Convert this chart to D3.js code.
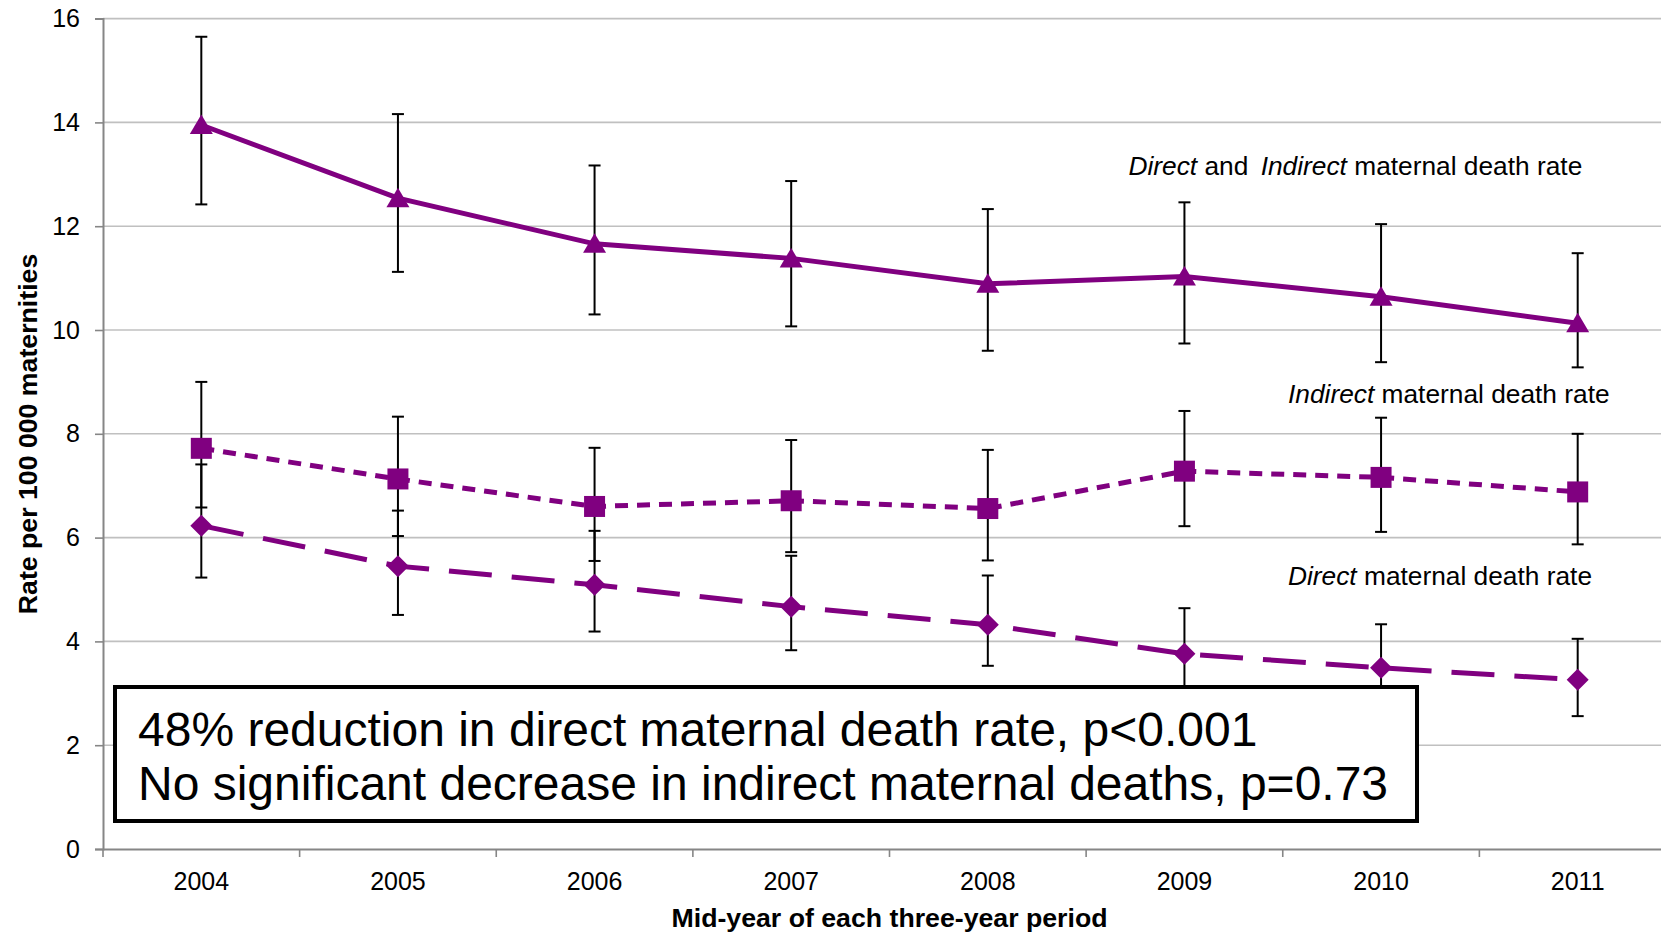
<!DOCTYPE html>
<html>
<head>
<meta charset="utf-8">
<script src="https://cdn.jsdelivr.net/npm/d3@7"></script>
<style>
  html, body { margin: 0; padding: 0; background: #fff; }
  svg { display: block; font-family: 'Liberation Sans', Arial, sans-serif; }
</style>
</head>
<body>
<script>

// data (rate per 100 000 maternities)
var years = ['2004', '2005', '2006', '2007', '2008', '2009', '2010', '2011'];

var totalRate  = [13.95, 12.54, 11.66, 11.38, 10.89, 11.03, 10.64, 10.13];
var totalLow   = [12.42, 11.12, 10.30, 10.07, 9.60, 9.74, 9.38, 9.28];
var totalHigh  = [15.65, 14.16, 13.17, 12.87, 12.33, 12.46, 12.04, 11.48];

var indirectRate = [7.72, 7.13, 6.60, 6.71, 6.56, 7.28, 7.16, 6.88];
var indirectLow  = [6.58, 6.03, 5.55, 5.72, 5.56, 6.22, 6.11, 5.87];
var indirectHigh = [9.00, 8.33, 7.73, 7.88, 7.69, 8.44, 8.31, 8.00];

var directRate = [6.23, 5.45, 5.09, 4.67, 4.32, 3.76, 3.49, 3.26];
var directLow  = [5.23, 4.51, 4.19, 3.83, 3.53, 2.90, 2.70, 2.56];
var directHigh = [7.41, 6.52, 6.13, 5.65, 5.27, 4.64, 4.33, 4.05];

var yTicks = [0, 2, 4, 6, 8, 10, 12, 14, 16];

var notes = [
    '48% reduction in direct maternal death rate, p<0.001',
    'No significant decrease in indirect maternal deaths, p=0.73'
];

var purple = '#800080';

var body = d3.select('body');

var svg = body.append('svg')
    .attr('width', 1661)
    .attr('height', 934);

var margin = { top: 18.6, left: 103 };
var width = 1573;      // plot runs past the right edge of the picture
var height = 830.4;

var g = svg.append('g')
    .attr('transform', 'translate(' + margin.left + ',' + margin.top + ')');

var x = d3.scaleBand()
    .domain(years)
    .range([0, width]);

var y = d3.scaleLinear()
    .domain([0, 16])
    .range([height, 0]);

// --------------------------------------------------
// grid + axes
// --------------------------------------------------

g.append('g')
    .selectAll('line')
    .data(yTicks.filter(d => d > 0))
    .enter().append('line')
    .attr('x1', 0)
    .attr('x2', width)
    .attr('y1', d => y(d))
    .attr('y2', d => y(d))
    .attr('stroke', '#c0c0c0')
    .attr('stroke-width', 1.6);

var yAxis = g.append('g')
    .call(d3.axisLeft(y).tickValues(yTicks).tickSize(8).tickPadding(15));

yAxis.select('.domain').attr('stroke', '#868686').attr('stroke-width', 2);
yAxis.selectAll('.tick line').attr('stroke', '#868686').attr('stroke-width', 1.6);
yAxis.selectAll('text')
    .attr('font-size', 25)
    .attr('font-family', "'Liberation Sans', Arial, sans-serif")
    .attr('fill', '#000');

var xAxis = g.append('g')
    .attr('transform', 'translate(0,' + height + ')')
    .call(d3.axisBottom(x).tickSize(0).tickPadding(23));

xAxis.select('.domain').attr('stroke', '#868686').attr('stroke-width', 2);
xAxis.selectAll('text')
    .attr('font-size', 25)
    .attr('font-family', "'Liberation Sans', Arial, sans-serif")
    .attr('fill', '#000');

// tick marks sit between the categories
var bounds = years.map(d => x(d)).concat([x(years[years.length - 1]) + x.bandwidth()]);
xAxis.selectAll('.bound')
    .data(bounds)
    .enter().append('line')
    .attr('class', 'bound')
    .attr('x1', d => d)
    .attr('x2', d => d)
    .attr('y1', 0)
    .attr('y2', 8)
    .attr('stroke', '#868686')
    .attr('stroke-width', 1.6);

svg.append('text')
    .attr('x', 889.5)
    .attr('y', 927)
    .attr('text-anchor', 'middle')
    .attr('font-size', 26.7)
    .attr('font-weight', 'bold')
    .text('Mid-year of each three-year period');

svg.append('text')
    .attr('transform', 'translate(37,434) rotate(-90)')
    .attr('text-anchor', 'middle')
    .attr('font-size', 26.7)
    .attr('font-weight', 'bold')
    .text('Rate per 100 000 maternities');

// --------------------------------------------------
// series
// --------------------------------------------------

var cx = d => x(d) + x.bandwidth() / 2;

var series = [
    { rate: directRate, low: directLow, high: directHigh, dash: '43,20', shape: 'diamond' },
    { rate: indirectRate, low: indirectLow, high: indirectHigh, dash: '13,9', shape: 'square' },
    { rate: totalRate, low: totalLow, high: totalHigh, dash: null, shape: 'triangle' }
];

function markerPath(shape) {
    if (shape == 'triangle') return 'M0,-10.5L11.5,9L-11.5,9Z';
    if (shape == 'square') return 'M-10.5,-10.5H10.5V10.5H-10.5Z';
    return 'M0,-11L11,0L0,11L-11,0Z';
}

var line = d3.line()
    .x((d, i) => cx(years[i]))
    .y(d => y(d));

// error bars
series.forEach(function (s) {
    var eb = g.append('g')
        .attr('stroke', '#000')
        .attr('stroke-width', 2);

    eb.selectAll('.bar')
        .data(years)
        .enter().append('line')
        .attr('x1', d => cx(d))
        .attr('x2', d => cx(d))
        .attr('y1', (d, i) => y(s.low[i]))
        .attr('y2', (d, i) => y(s.high[i]));

    [s.low, s.high].forEach(function (arr) {
        eb.append('g')
            .selectAll('line')
            .data(years)
            .enter().append('line')
            .attr('x1', d => cx(d) - 6)
            .attr('x2', d => cx(d) + 6)
            .attr('y1', (d, i) => y(arr[i]))
            .attr('y2', (d, i) => y(arr[i]));
    });
});

series.forEach(function (s) {
    g.append('path')
        .datum(s.rate)
        .attr('d', line)
        .attr('fill', 'none')
        .attr('stroke', purple)
        .attr('stroke-width', 5)
        .attr('stroke-dasharray', s.dash);

    g.append('g')
        .selectAll('path')
        .data(s.rate)
        .enter().append('path')
        .attr('d', markerPath(s.shape))
        .attr('transform', (d, i) => 'translate(' + cx(years[i]) + ',' + y(d) + ')')
        .attr('fill', purple);
});

// --------------------------------------------------
// labels + note box
// --------------------------------------------------

var lab1 = svg.append('text').attr('x', 1128.5).attr('y', 174.5).attr('font-size', 26.3);
lab1.append('tspan').attr('font-style', 'italic').text('Direct');
lab1.append('tspan').text(' and ');
lab1.append('tspan').attr('font-style', 'italic').attr('dx', 5).text('Indirect');
lab1.append('tspan').text(' maternal death rate');

var lab2 = svg.append('text').attr('x', 1288).attr('y', 403).attr('font-size', 26.3);
lab2.append('tspan').attr('font-style', 'italic').text('Indirect');
lab2.append('tspan').text(' maternal death rate');

var lab3 = svg.append('text').attr('x', 1288).attr('y', 584.5).attr('font-size', 26.3);
lab3.append('tspan').attr('font-style', 'italic').text('Direct');
lab3.append('tspan').text(' maternal death rate');

svg.append('rect')
    .attr('x', 115)
    .attr('y', 687)
    .attr('width', 1302)
    .attr('height', 134)
    .attr('fill', '#fff')
    .attr('stroke', '#000')
    .attr('stroke-width', 4);

svg.selectAll('.note')
    .data(notes)
    .enter().append('text')
    .attr('class', 'note')
    .attr('x', 138)
    .attr('y', (d, i) => 745.5 + i * 54)
    .attr('font-size', 48)
    .text(d => d);

</script>
</body>
</html>
